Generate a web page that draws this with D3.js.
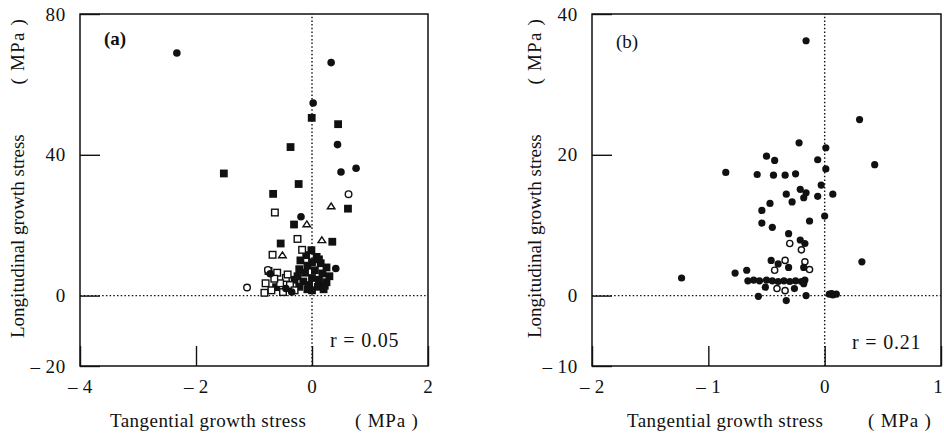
<!DOCTYPE html>
<html><head><meta charset="utf-8">
<script src="https://cdn.jsdelivr.net/npm/d3@7"></script>
<style>
body{margin:0;background:#fff}
svg{display:block}
text{font-family:"Liberation Serif","Times New Roman",serif;fill:#111}
</style>
</head><body>
<svg id="c" width="944" height="435"></svg>
<script>
// ---------- Panel (a) data ----------
const aXTicks = [-4, -2, 0, 2];
const aYTicks = [-20, 0, 40, 80];
const aFilledCircles = [[-2.33,68.9],[0.33,66.2],[0.02,54.7],[0.44,42.9],[0.5,35.1],[0.76,36.2],[-0.19,22.4],[0.41,7.7],[-0.72,6.2],[-0.45,2.0],[-0.35,1.0]];
const aFilledSquares = [[-0.005,50.5],[0.45,48.7],[-0.37,42.2],[-1.52,34.7],[-0.23,31.7],[-0.67,28.9],[0.62,24.7],[-0.31,20.2],[0.35,15.3],[-0.54,14.8],[-0.01,12.9],[-0.62,2.4],
  [-0.1,11.5],[0.08,11.0],[-0.2,10.0],[0.0,9.5],[0.15,9.2],[-0.08,8.5],[0.25,8.0],[-0.22,7.5],[0.05,7.2],[-0.12,6.5],[0.18,6.3],[0.3,5.5],[-0.25,5.5],[0.0,5.0],[0.12,4.5],[-0.15,4.0],[0.25,3.8],[-0.05,3.0],[0.1,2.5],[-0.22,2.5],[0.2,1.8],[0.0,1.5],[-0.3,4.5],[0.12,10.3],[0.22,2.8],[-0.08,1.8]];
const aOpenSquares = [[-0.64,23.6],[-0.25,16.1],[-0.17,13.0],[-0.68,11.6],[-0.75,7.0],[-0.6,6.5],[-0.45,5.0],[-0.8,3.5],[-0.55,3.5],[-0.38,3.0],[-0.7,1.5],[-0.5,1.0],[-0.3,1.5],[-0.42,6.0],[-0.65,4.8],[-0.82,0.8]];
const aOpenCircles = [[0.63,28.8],[-1.12,2.3],[-0.76,7.3]];
const aOpenTriangles = [[0.33,25.4],[-0.09,20.3],[0.17,15.8],[-0.51,11.5]];
const aR = "r = 0.05";

// ---------- Panel (b) data ----------
const bXTicks = [-2, -1, 0, 1];
const bYTicks = [-10, 0, 20, 40];
const bFilledCircles = [[-0.16,36.2],[0.30,25.0],[-0.22,21.7],[0.01,21.0],[-0.5,19.8],[-0.43,19.2],[-0.06,19.3],[0.43,18.6],[0.01,18.0],[-0.85,17.5],[-0.58,17.2],[-0.44,17.1],[-0.34,17.1],[-0.25,17.3],[-0.03,15.7],[-0.33,14.4],[-0.21,15.1],[-0.16,14.6],[-0.18,13.9],[-0.06,14.1],[0.07,14.4],[-0.28,13.3],[-0.47,13.1],[-0.54,12.1],[0.0,11.3],[-0.13,10.6],[-0.54,10.3],[-0.45,9.7],[-0.31,8.8],[-0.21,7.9],[-0.17,7.4],[-0.46,5.0],[-0.4,4.5],[-0.31,4.0],[-0.18,4.0],[-0.77,3.2],[-0.67,3.6],[-1.23,2.5],[0.32,4.8],
  [-0.66,2.1],[-0.61,2.2],[-0.56,2.1],[-0.5,2.2],[-0.45,2.1],[-0.4,2.0],[-0.35,2.1],[-0.3,2.0],[-0.25,2.1],[-0.2,2.0],[-0.17,2.2],
  [-0.51,1.2],[-0.26,1.0],[-0.18,1.7],[-0.57,-0.1],[-0.33,-0.7],[-0.16,0.0],[0.04,0.2],[0.07,0.1],[0.1,0.2],[0.06,0.3]];
const bOpenCircles = [[-0.3,7.4],[-0.2,6.5],[-0.43,3.6],[-0.34,5.0],[-0.17,4.8],[-0.13,3.7],[-0.41,1.0],[-0.34,0.7]];
const bR = "r = 0.21";

const xLabel = "Tangential growth stress";
const yLabel = "Longitudinal growth stress";
const unit = "( MPa )";

const svg = d3.select("#c");
const fmt = d => d < 0 ? "\u2013\u2009" + Math.abs(d) : String(d);

function panel(o){
  const g = svg.append("g");
  const x = d3.scaleLinear().domain(o.xd).range([o.x0, o.x1]);
  const y = d3.scaleLinear().domain(o.yd).range([o.y1, o.y0]);
  g.append("line").attr("x1", x(o.xd[0])).attr("x2", x(o.xd[1])).attr("y1", y(0)).attr("y2", y(0))
    .attr("stroke","#111").attr("stroke-width",1.4).attr("stroke-dasharray","1.5,2.2");
  g.append("line").attr("x1", x(0)).attr("x2", x(0)).attr("y1", y(o.yd[0])).attr("y2", y(o.yd[1]))
    .attr("stroke","#111").attr("stroke-width",1.4).attr("stroke-dasharray","1.5,2.2");
  const ax = g.append("g").attr("transform",`translate(0,${o.y1})`)
    .call(d3.axisBottom(x).tickValues(o.xt).tickFormat(fmt).tickSize(-20).tickPadding(14));
  const ay = g.append("g").attr("transform",`translate(${o.x0},0)`)
    .call(d3.axisLeft(y).tickValues(o.yt).tickFormat(fmt).tickSize(-20).tickPadding(14));
  [ax, ay].forEach(a => {
    a.select(".domain").remove();
    a.selectAll(".tick line").attr("stroke","#111").attr("stroke-width",1.4);
    a.selectAll(".tick text").style("font-size","19px").style("letter-spacing","0.8px")
      .style("font-family",'"Liberation Serif",serif').attr("fill","#111");
  });
  if (o.lastShift) ax.selectAll(".tick text").filter(d => d === o.xd[1]).attr("dx", o.lastShift);
  g.append("rect").attr("x",o.x0).attr("y",o.y0).attr("width",o.x1-o.x0).attr("height",o.y1-o.y0)
    .attr("fill","none").attr("stroke","#111").attr("stroke-width",1.5);
  const s = 3.9;
  (o.fsq||[]).forEach(p => g.append("rect").attr("x",x(p[0])-s).attr("y",y(p[1])-s).attr("width",2*s).attr("height",2*s).attr("fill","#111"));
  (o.osq||[]).forEach(p => g.append("rect").attr("x",x(p[0])-s+0.6).attr("y",y(p[1])-s+0.6).attr("width",2*s-1.2).attr("height",2*s-1.2).attr("fill","#fff").attr("stroke","#111").attr("stroke-width",1.4));
  (o.oci||[]).forEach(p => g.append("circle").attr("cx",x(p[0])).attr("cy",y(p[1])).attr("r",o.rad-0.5).attr("fill","#fff").attr("stroke","#111").attr("stroke-width",1.4));
  (o.otr||[]).forEach(p => g.append("path").attr("transform",`translate(${x(p[0])},${y(p[1])})`)
      .attr("d","M0,-3.2L3.8,2.6L-3.8,2.6Z").attr("fill","#fff").attr("stroke","#111").attr("stroke-width",1.4));
  (o.fci||[]).forEach(p => g.append("circle").attr("cx",x(p[0])).attr("cy",y(p[1])).attr("r",o.rad).attr("fill","#111"));
  g.append("text").attr("x",o.lx).attr("y",o.ly).text(o.lab).style("font-size","19px").style("font-weight",o.bold?"bold":"normal");
  g.append("text").attr("x",o.rx).attr("y",o.ry).text(o.r).style("font-size","20px").style("letter-spacing","0.8px");
  g.append("text").attr("x",o.xlx).attr("y",427).text(xLabel).style("font-size","19px").style("letter-spacing","0.45px");
  g.append("text").attr("x",o.xux).attr("y",427).text(unit).style("font-size","19px").style("letter-spacing","0.8px");
  g.append("text").attr("transform",`translate(${o.ylx},338) rotate(-90)`).text(yLabel).style("font-size","19px");
  g.append("text").attr("transform",`translate(${o.ylx},18) rotate(-90)`).attr("text-anchor","end").text(unit).style("font-size","19px").style("letter-spacing","1.2px");
}

panel({xd:[-4,2], yd:[-20,80], x0:80, x1:428, y0:14, y1:366, xt:aXTicks, yt:aYTicks,
  fci:aFilledCircles, fsq:aFilledSquares, osq:aOpenSquares, oci:aOpenCircles, otr:aOpenTriangles, rad:3.8,
  lab:"(a)", bold:true, lx:104, ly:45, r:aR, rx:330, ry:347, xlx:110, xux:355, ylx:24});
panel({xd:[-2,1], yd:[-10,40], x0:592, x1:941, y0:14, y1:366, xt:bXTicks, yt:bYTicks,
  fci:bFilledCircles, oci:bOpenCircles, rad:3.6, lastShift:-3,
  lab:"(b)", bold:false, lx:616, ly:48, r:bR, rx:852, ry:349, xlx:627, xux:868, ylx:541});
</script>
</body></html>
